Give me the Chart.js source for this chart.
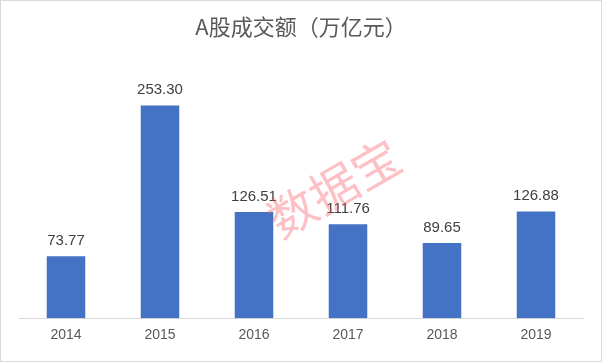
<!DOCTYPE html>
<html>
<head>
<meta charset="utf-8">
<script src="https://cdn.jsdelivr.net/npm/chart.js@4"></script>
<style>
  html, body { margin: 0; padding: 0; background: #fff; }
  #wrap { position: relative; width: 600px; height: 360px; border: 1px solid #d9d9d9; }
  canvas { display: block; }
</style>
</head>
<body>
<div id="wrap"><canvas id="turnoverChart" width="600" height="360"></canvas></div>
<script>
// 数据
const years = ['2014', '2015', '2016', '2017', '2018', '2019'];
const turnover = [73.77, 253.30, 126.51, 111.76, 89.65, 126.88];

const FONT = '"Noto Sans CJK SC", "Liberation Sans", Arial, sans-serif';

// 柱顶数值标签 + 水印
const labelPlugin = {
    id: 'barLabels',
    afterDatasetsDraw(chart) {
        const ctx = chart.ctx;
        const meta = chart.getDatasetMeta(0);
        ctx.save();
        ctx.font = '15px "Liberation Sans", Arial, sans-serif';
        ctx.fillStyle = '#404040';
        ctx.textAlign = 'center';
        ctx.textBaseline = 'bottom';
        meta.data.forEach((bar, i) => {
            ctx.fillText(turnover[i].toFixed(2), bar.x, bar.y - 8);
        });
        ctx.restore();
    },
    afterDraw(chart) {
        const ctx = chart.ctx;
        ctx.save();
        ctx.translate(333, 187);
        ctx.rotate(-30 * Math.PI / 180);
        ctx.font = '48px "Noto Sans CJK SC", sans-serif';
        ctx.fillStyle = 'rgba(250, 90, 100, 0.38)';
        ctx.textAlign = 'center';
        ctx.textBaseline = 'middle';
        ctx.fillText('数据宝', 0, 0);
        ctx.restore();
    }
};

new Chart(document.getElementById('turnoverChart'), {
    type: 'bar',
    data: {
        labels: years,
        datasets: [{
            data: turnover,
            backgroundColor: '#4472c4',
            categoryPercentage: 1,
            barPercentage: 0.41
        }]
    },
    options: {
        responsive: false,
        animation: false,
        layout: { padding: { left: 18, right: 18, top: 10, bottom: 8 } },
        plugins: {
            legend: { display: false },
            tooltip: { enabled: false },
            title: {
                display: true,
                text: 'A股成交额（万亿元）',
                color: '#595959',
                font: { family: FONT, size: 22, weight: 'normal' },
                padding: { top: 2, bottom: 10 }
            }
        },
        scales: {
            x: {
                grid: { display: false, drawTicks: false },
                border: { display: true, color: '#d9d9d9' },
                ticks: {
                    color: '#595959',
                    font: { family: '"Liberation Sans", Arial, sans-serif', size: 14 },
                    padding: 9
                }
            },
            y: {
                display: false,
                min: 0,
                max: 320
            }
        }
    },
    plugins: [labelPlugin]
});
</script>
</body>
</html>
